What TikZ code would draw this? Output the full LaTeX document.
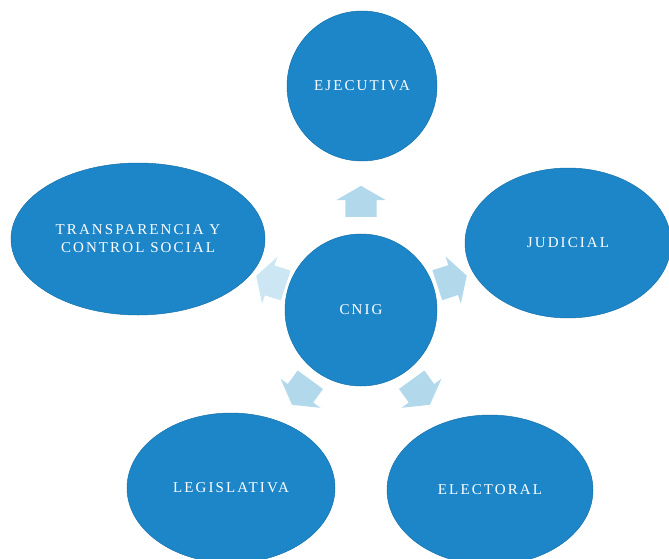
\documentclass[tikz,border=0pt]{standalone}
\usepackage{fontspec}
\setmainfont{Liberation Serif}
\newfontfamily\ramafont[LetterSpace=14]{Liberation Serif}
\usetikzlibrary{shapes.geometric,shapes.arrows,calc}
\definecolor{cnigblue}{RGB}{28,134,200}
\definecolor{arrowblue}{RGB}{178,216,236}
\begin{document}
\begin{tikzpicture}[x=1pt,y=-1pt,
    rama/.style={ellipse,fill=cnigblue,draw=cnigblue!85!black,line width=0.5pt,
        text=white,font=\ramafont\fontsize{15}{18}\selectfont,align=center,inner sep=0pt},
    flecha/.style={single arrow,fill=arrowblue,draw=none,inner xsep=0pt,inner ysep=15.5pt,
        minimum height=31pt,single arrow head extend=9pt,single arrow head indent=0pt,
        single arrow tip angle=120,anchor=tail}]
    \useasboundingbox (0,0) rectangle (669,559);
    % nodo central
    \node[rama,minimum width=152pt,minimum height=152pt] (cnig) at (361,310) {CNIG};
    % funciones
    \foreach \n/\x/\y/\w/\h/\t in {ejec/362/86/150/150/EJECUTIVA,
        judi/568/243/206/150/JUDICIAL,elec/490/490/206/150/ELECTORAL,
        legi/231/488/208/150/LEGISLATIVA,
        tran/138/239/254/152/{TRANSPARENCIA Y\\CONTROL SOCIAL}}
        \node[rama,minimum width=\w pt,minimum height=\h pt] (\n) at (\x,\y) {\t};
    % flechas hacia afuera
    \foreach \n/\a/\r/\c in {ejec/90/93/100,judi/18/80/100,tran/162/79/65,legi/234/86/100,elec/306/86/100}
        \node[flecha,fill=arrowblue!\c,rotate=\a] (f\n) at ($(cnig)+(\a:\r pt)$) {};
\end{tikzpicture}
\end{document}
